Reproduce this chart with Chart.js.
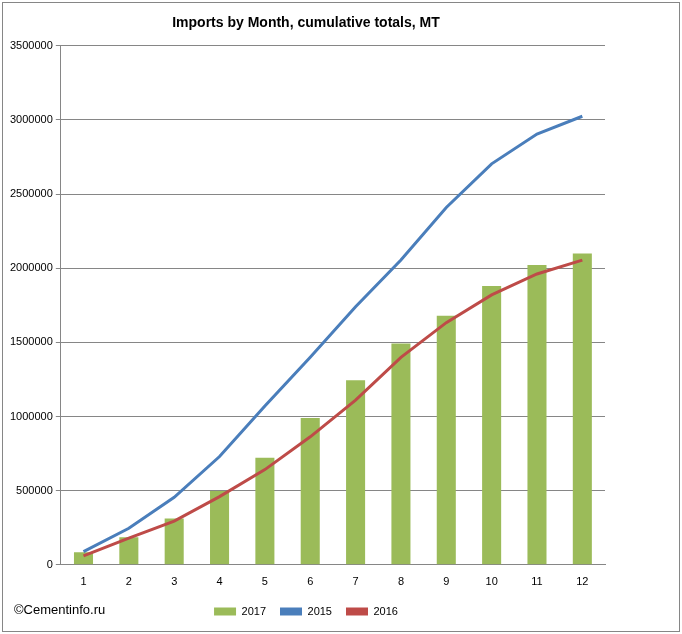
<!DOCTYPE html>
<html>
<head>
<meta charset="utf-8">
<script src="https://cdn.jsdelivr.net/npm/chart.js@4"></script>
<style>
body { margin: 0; background: #fff; }
#box { position: absolute; left: 2px; top: 2px; width: 676px; height: 628px; border: 1px solid #868686; }
#copy { position: absolute; left: 14px; top: 602px; font: 13px Arial, "Liberation Sans", sans-serif; color: #000; }
</style>
</head>
<body>
<div id="box"><canvas id="grafico" width="676" height="628"></canvas></div>
<div id="copy">©Cementinfo.ru</div>
<script>
const meses = ['1','2','3','4','5','6','7','8','9','10','11','12'];
const imp2017 = [85000, 185000, 312000, 497000, 722000, 990000, 1245000, 1493000, 1680000, 1880000, 2021000, 2100000];
const imp2015 = [89000, 246000, 455000, 730000, 1071000, 1400000, 1740000, 2055000, 2410000, 2704000, 2905000, 3025000];
const imp2016 = [60000, 180000, 295000, 460000, 642000, 863000, 1110000, 1399000, 1633000, 1820000, 1961000, 2055000];

const ctx = document.getElementById('grafico').getContext('2d');
Chart.defaults.font.family = 'Arial, "Liberation Sans", sans-serif';
Chart.defaults.color = '#000';
new Chart(ctx, {
    type: 'bar',
    data: {
        labels: meses,
        datasets: [
            { type: 'bar', label: '2017', data: imp2017, backgroundColor: '#9BBB59', barPercentage: 0.42, categoryPercentage: 1, order: 3 },
            { type: 'line', label: '2015', data: imp2015, borderColor: '#4A7EBB', borderWidth: 3, pointRadius: 0, tension: 0, order: 1 },
            { type: 'line', label: '2016', data: imp2016, borderColor: '#BE4B48', borderWidth: 3, pointRadius: 0, tension: 0, order: 2 }
        ]
    },
    options: {
        responsive: false,
        animation: false,
        layout: { padding: { left: 4, right: 74, top: 4, bottom: 4 } },
        plugins: {
            title: { display: true, text: 'Imports by Month, cumulative totals, MT', font: { size: 14, weight: 'bold' }, padding: { top: 8, bottom: 14 } },
            legend: {
                position: 'bottom',
                labels: {
                    font: { size: 11 }, boxWidth: 22, boxHeight: 8, padding: 14,
                    generateLabels: c => c.data.datasets.map((d, i) => ({
                        text: d.label, datasetIndex: i,
                        fillStyle: d.type === 'bar' ? d.backgroundColor : d.borderColor,
                        strokeStyle: d.type === 'bar' ? d.backgroundColor : d.borderColor,
                        lineWidth: 0
                    }))
                }
            }
        },
        scales: {
            x: {
                grid: { display: false, drawTicks: true, offset: true },
                border: { color: '#868686' },
                ticks: { font: { size: 11 } }
            },
            y: {
                min: 0, max: 3500000,
                ticks: { stepSize: 500000, font: { size: 11 }, callback: v => String(v) },
                grid: { color: '#868686', tickLength: 5 },
                border: { color: '#868686' }
            }
        }
    }
});
</script>
</body>
</html>
